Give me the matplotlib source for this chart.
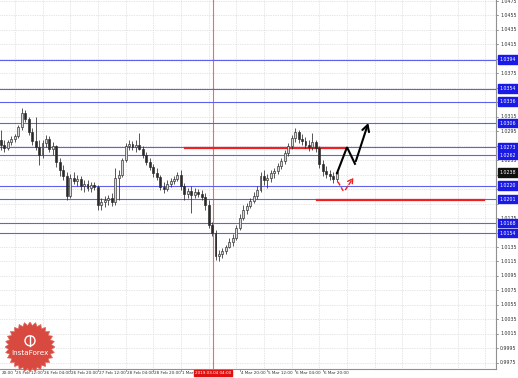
import matplotlib
matplotlib.use('Agg')
import matplotlib.pyplot as plt
import matplotlib.transforms as mtransforms
from matplotlib.patches import Rectangle, Polygon, Circle
import numpy as np

# ---------------- data (2-hour bars) ----------------
first_open = 1.0283
closes = [1.0276, 1.0272, 1.0280, 1.0284, 1.0288, 1.0301, 1.0320, 1.0312, 1.0294, 1.0282,
          1.0273, 1.0262, 1.0279, 1.0284, 1.0270, 1.0275, 1.0253, 1.0242, 1.0233, 1.0206,
          1.0230, 1.0226, 1.0229, 1.0219, 1.0222, 1.0217, 1.0221, 1.0218, 1.0193, 1.0197,
          1.0200, 1.0203, 1.0197, 1.0230, 1.0235, 1.0255, 1.0275, 1.0277, 1.0273, 1.0276,
          1.0270, 1.0262, 1.0253, 1.0246, 1.0237, 1.0232, 1.0218, 1.0215, 1.0222, 1.0226,
          1.0229, 1.0235, 1.0219, 1.0208, 1.0213, 1.0207, 1.0211, 1.0208, 1.0204, 1.0193,
          1.0166, 1.0155, 1.0123, 1.0126, 1.0130, 1.0135, 1.0142, 1.0148, 1.0161, 1.0175,
          1.0186, 1.0192, 1.0199, 1.0206, 1.0214, 1.0233, 1.0228, 1.0230, 1.0237, 1.0240,
          1.0247, 1.0254, 1.0265, 1.0275, 1.0286, 1.0294, 1.0284, 1.0282, 1.0276, 1.0273,
          1.0280, 1.0272, 1.0250, 1.0240, 1.0236, 1.0233, 1.0229, 1.0239]
highs = [1.0297, 1.0283, 1.0283, 1.0288, 1.0291, 1.0304, 1.0327, 1.0324, 1.0315, 1.0300,
         1.0315, 1.0283, 1.0283, 1.0290, 1.0288, 1.0280, 1.0276, 1.0258, 1.0248, 1.0239,
         1.0236, 1.0239, 1.0235, 1.0233, 1.0228, 1.0228, 1.0225, 1.0225, 1.0221, 1.0203,
         1.0206, 1.0207, 1.0210, 1.0244, 1.0242, 1.0258, 1.0279, 1.0283, 1.0282, 1.0283,
         1.0293, 1.0275, 1.0266, 1.0258, 1.0250, 1.0244, 1.0235, 1.0225, 1.0228, 1.0230,
         1.0233, 1.0239, 1.0242, 1.0224, 1.0217, 1.0219, 1.0217, 1.0215, 1.0214, 1.0210,
         1.0200, 1.0170, 1.0159, 1.0131, 1.0134, 1.0138, 1.0148, 1.0153, 1.0166, 1.0181,
         1.0193, 1.0196, 1.0203, 1.0211, 1.0219, 1.0239, 1.0242, 1.0236, 1.0242, 1.0244,
         1.0251, 1.0258, 1.0269, 1.0279, 1.0290, 1.0300, 1.0297, 1.0291, 1.0287, 1.0283,
         1.0293, 1.0283, 1.0275, 1.0255, 1.0247, 1.0242, 1.0239, 1.0242]
lows = [1.0269, 1.0266, 1.0269, 1.0276, 1.0280, 1.0286, 1.0297, 1.0308, 1.0290, 1.0276,
        1.0269, 1.0248, 1.0258, 1.0273, 1.0266, 1.0262, 1.0246, 1.0233, 1.0228, 1.0200,
        1.0203, 1.0222, 1.0219, 1.0214, 1.0211, 1.0213, 1.0211, 1.0214, 1.0186, 1.0186,
        1.0190, 1.0193, 1.0192, 1.0193, 1.0200, 1.0232, 1.0253, 1.0269, 1.0269, 1.0266,
        1.0269, 1.0258, 1.0248, 1.0242, 1.0232, 1.0228, 1.0214, 1.0210, 1.0213, 1.0218,
        1.0222, 1.0226, 1.0214, 1.0200, 1.0203, 1.0182, 1.0203, 1.0204, 1.0200, 1.0186,
        1.0161, 1.0150, 1.0117, 1.0115, 1.0120, 1.0126, 1.0133, 1.0137, 1.0145, 1.0159,
        1.0173, 1.0181, 1.0189, 1.0196, 1.0202, 1.0211, 1.0221, 1.0217, 1.0225, 1.0230,
        1.0236, 1.0243, 1.0250, 1.0261, 1.0270, 1.0280, 1.0279, 1.0276, 1.0272, 1.0268,
        1.0269, 1.0266, 1.0244, 1.0233, 1.0230, 1.0228, 1.0224, 1.0225]

blue_levels = [1.0394, 1.0354, 1.0336, 1.0306, 1.0273, 1.0262, 1.0220, 1.0201, 1.0168, 1.0154]
blue_labels = ["1.0394", "1.0354", "1.0336", "1.0306", "1.0273", "1.0262", "1.0220", "1.0201", "1.0168", "1.0154"]
current_price = 1.0238
red_upper = (53.2, 99.4, 1.0272)   # start bar, end bar, level
red_lower = (91.3, 139.6, 1.0200)
vline_bar = 61.3
vline_label = "2019.03.04 04:00"

time_ticks = [-4, 4, 12, 20, 28, 36, 44, 52, 69, 77, 85, 93]
time_labels = ["20:00", "25 Feb 12:00", "26 Feb 04:00", "26 Feb 20:00", "27 Feb 12:00",
               "28 Feb 04:00", "28 Feb 20:00", "1 Mar", "4 Mar 20:00",
               "5 Mar 12:00", "6 Mar 04:00", "6 Mar 20:00"]
grid_bars = list(range(-4, 145, 8))

price_ticks = [round(0.9975 + 0.002 * k, 4) for k in range(26)]

# forecast paths
up_x = [97.1, 100.0, 102.3, 106.4]
up_y = [1.0237, 1.0273, 1.0250, 1.0310]
alt_x = [97.4, 99.1, 102.3]
alt_y = [1.0225, 1.0211, 1.0234]

# ---------------- figure ----------------
W, H = 518, 378
fig = plt.figure(figsize=(W / 100, H / 100), dpi=100)
fig.patch.set_facecolor('white')
ax = fig.add_axes([0, 9 / H, 496 / W, 369 / H])
ax.set_xlim(-0.29, 143.06)
ax.set_ylim(0.99664, 1.04764)
ax.set_facecolor('white')

for s in ['top', 'left']:
    ax.spines[s].set_visible(False)
for s in ['right', 'bottom']:
    ax.spines[s].set_color('#909090')
    ax.spines[s].set_linewidth(0.8)
ax.set_xticks([])
ax.set_yticks([])

# grid
for p in price_ticks:
    ax.axhline(p, color='#cdcdcd', lw=0.5, ls=(0, (1, 1.5)), zorder=0)
for b in grid_bars:
    ax.axvline(b, color='#cdcdcd', lw=0.5, ls=(0, (1, 1.5)), zorder=0)

# levels
for lv in blue_levels:
    ax.axhline(lv, color='#6060f0', lw=0.8, zorder=1)
ax.axvline(vline_bar, color='#ff3030', lw=0.8, alpha=0.75, zorder=1)
ax.plot([red_upper[0], red_upper[1]], [red_upper[2]] * 2, color='#f02020', lw=1.6, zorder=2)
ax.plot([red_lower[0], red_lower[1]], [red_lower[2]] * 2, color='#f02020', lw=1.6, zorder=2)

# candles
opens = [first_open] + closes[:-1]
for i, (o, h, l, c) in enumerate(zip(opens, highs, lows, closes)):
    ax.plot([i, i], [l, h], color='#2a2a2a', lw=0.55, zorder=3, solid_capstyle='butt')
    bottom = min(o, c)
    height = max(abs(c - o), 0.00006)
    face = '#d8d8d8' if c >= o else '#2a2a2a'
    ax.add_patch(Rectangle((i - 0.28, bottom), 0.56, height, facecolor=face,
                           edgecolor='#2a2a2a', lw=0.45, zorder=4))

# forecast arrows
ax.plot(up_x[:-1], up_y[:-1], color='black', lw=1.5, zorder=5, solid_joinstyle='miter')
ax.annotate('', xy=(up_x[-1], up_y[-1]), xytext=(up_x[-2], up_y[-2]),
            arrowprops=dict(arrowstyle='->,head_length=0.45,head_width=0.25', color='black', lw=1.5),
            zorder=5)
ax.plot(alt_x[:-1], alt_y[:-1], color='#f02020', lw=1.0, ls=(0, (3, 1.5)), zorder=5)
ax.annotate('', xy=(alt_x[-1], alt_y[-1]), xytext=(alt_x[-2], alt_y[-2]),
            arrowprops=dict(arrowstyle='->,head_length=0.35,head_width=0.2', color='#f02020',
                            lw=1.0, ls=(0, (3, 1.5))), zorder=5)

# right axis labels
trans_r = mtransforms.blended_transform_factory(ax.transAxes, ax.transData)
boxed = blue_levels + [current_price]
for p in price_ticks:
    ax.plot([1.0, 1.005], [p, p], transform=trans_r, color='#707070', lw=0.5, clip_on=False)
    if min(abs(p - b) for b in boxed) < 0.0006:
        continue
    ax.text(1.008, p, f"{p:.4f}", transform=trans_r, fontsize=3.4, color='#303030',
            va='center', ha='left', clip_on=False, zorder=6)
for lv, lab in zip(blue_levels, blue_labels):
    ax.text(1.007, lv, lab, transform=trans_r, fontsize=3.4, color='white', va='center',
            ha='left', clip_on=False, zorder=8,
            bbox=dict(boxstyle='square,pad=0.35', facecolor='#1a1ae6', edgecolor='#1a1ae6'))
ax.text(1.007, current_price, f"{current_price:.4f}", transform=trans_r, fontsize=3.4,
        color='white', va='center', ha='left', clip_on=False, zorder=8,
        bbox=dict(boxstyle='square,pad=0.35', facecolor='#101010', edgecolor='#101010'))

# bottom time labels
trans_b = mtransforms.blended_transform_factory(ax.transData, ax.transAxes)
for b in time_ticks:
    ax.plot([b, b], [0, -0.006], transform=trans_b, color='#707070', lw=0.5, clip_on=False)
for b, lab in zip(time_ticks, time_labels):
    xb = max(b, 0.0)
    ax.text(xb + 0.3, -0.006, lab, transform=trans_b, fontsize=3.0, color='#303030',
            va='top', ha='left', clip_on=False, zorder=6)
ax.text(vline_bar, -0.006, vline_label, transform=trans_b, fontsize=3.0, color='white',
        va='top', ha='center', clip_on=False, zorder=9,
        bbox=dict(boxstyle='square,pad=0.25', facecolor='#e01010', edgecolor='#e01010'))

# logo
lax = fig.add_axes([5 / W, 6 / H, 50 / W, 50 / H])
lax.set_xlim(-1, 1)
lax.set_ylim(-1, 1)
lax.axis('off')
n = 28
ang = np.linspace(0, 2 * np.pi, 2 * n, endpoint=False)
rad = np.where(np.arange(2 * n) % 2 == 0, 1.0, 0.86)
lax.add_patch(Polygon(np.c_[rad * np.cos(ang), rad * np.sin(ang)], closed=True,
                      facecolor='#d84a40', edgecolor='#e06a60', lw=0.5))
lax.add_patch(Circle((0, 0.25), 0.2, facecolor='none', edgecolor='white', lw=1.0))
lax.plot([0, 0], [0.05, 0.45], color='white', lw=1.0)
lax.text(0, -0.25, 'InstaForex', color='white', fontsize=5.2, ha='center', va='center')

fig.savefig('out.png', dpi=100, facecolor='white')
